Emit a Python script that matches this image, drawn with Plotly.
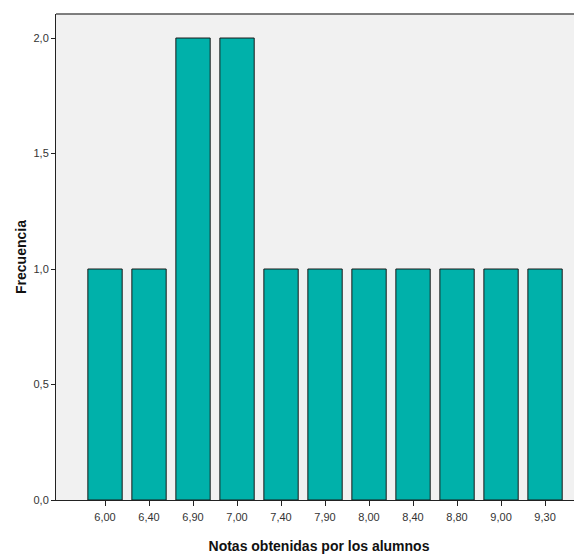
import plotly.graph_objects as go

notas = ["6,00", "6,40", "6,90", "7,00", "7,40", "7,90", "8,00", "8,40", "8,80", "9,00", "9,30"]
frecuencia = [1, 1, 2, 2, 1, 1, 1, 1, 1, 1, 1]
y_ticks = [0.0, 0.5, 1.0, 1.5, 2.0]
y_tick_labels = ["0,0", "0,5", "1,0", "1,5", "2,0"]

# The page body has an 8px default margin, so the figure is sized and
# its margins are set to land the plot area where the reference has it.
fig = go.Figure(
    go.Bar(
        x=notas,
        y=frecuencia,
        marker=dict(color="#00B1AA", line=dict(color="#1a1a1a", width=1)),
        width=0.78,
    )
)

fig.update_layout(
    width=574,
    height=546,
    margin=dict(l=48, r=0, t=6, b=54),
    paper_bgcolor="white",
    plot_bgcolor="#F1F1F1",
    showlegend=False,
    font=dict(family="Liberation Sans, Arial, sans-serif", color="#222222"),
)

fig.update_xaxes(
    type="category",
    range=[-1.114, 10.84],
    showline=True,
    linecolor="#222222",
    linewidth=1,
    ticks="outside",
    ticklen=5,
    tickcolor="#222222",
    ticklabelstandoff=2,
    tickfont=dict(size=11, color="#333333"),
    showgrid=False,
    zeroline=False,
    title=dict(
        text="<b>Notas obtenidas por los alumnos</b>",
        font=dict(size=14, color="#111111"),
        standoff=20,
    ),
    automargin=False,
)

fig.update_yaxes(
    range=[0, 2.104],
    tickvals=y_ticks,
    ticktext=y_tick_labels,
    showline=True,
    linecolor="#222222",
    linewidth=1,
    ticks="outside",
    ticklen=4,
    tickcolor="#222222",
    tickfont=dict(size=11, color="#333333"),
    showgrid=False,
    zeroline=False,
    title=dict(
        text="<b>Frecuencia</b>",
        font=dict(size=14, color="#111111"),
        standoff=3,
    ),
    automargin=False,
)

# top border line of the plot area
fig.add_shape(
    type="line", xref="paper", yref="paper", x0=0, x1=1, y0=1, y1=1,
    line=dict(color="#555555", width=1.5),
)

fig.write_html("out.html")
